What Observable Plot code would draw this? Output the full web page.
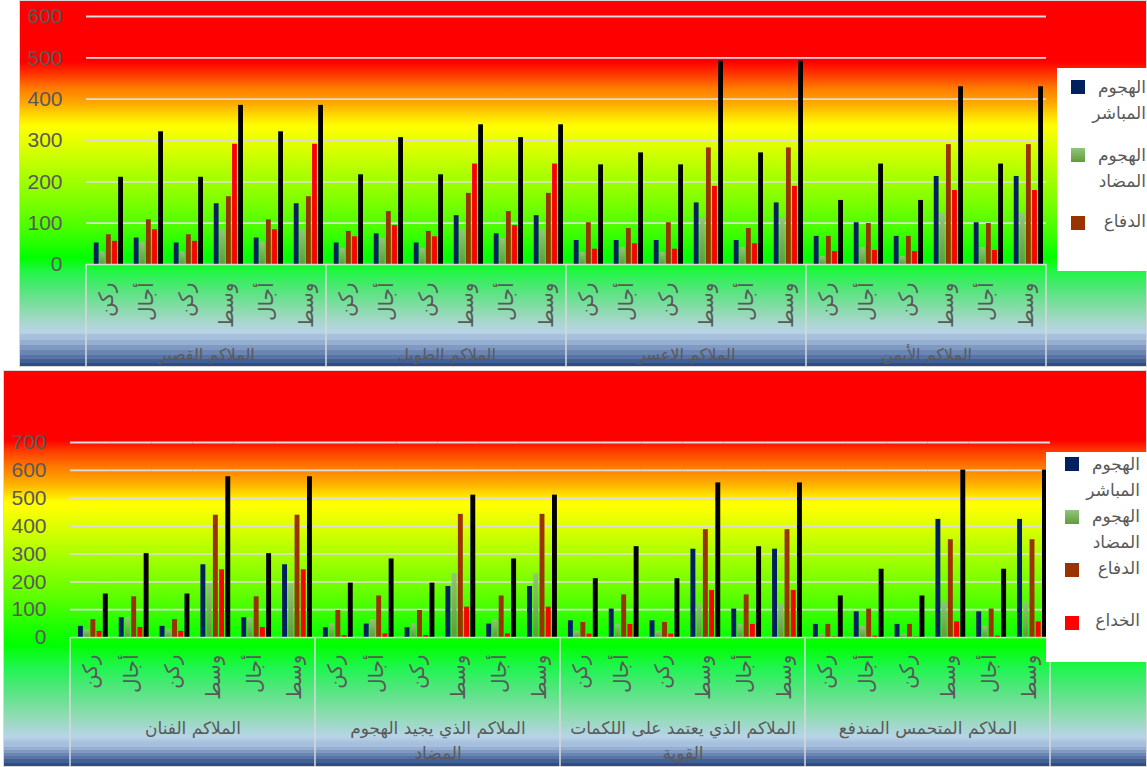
<!DOCTYPE html>
<html>
<head>
<meta charset="utf-8">
<script src="https://cdn.jsdelivr.net/npm/d3@7"></script>
<script src="https://cdn.jsdelivr.net/npm/@observablehq/plot@0.6"></script>
<style>
  html, body { margin: 0; padding: 0; background: #ffffff; }
  body { width: 1147px; height: 767px; position: relative; overflow: hidden;
         font-family: "Liberation Sans", "DejaVu Sans", sans-serif; }
  .panel { position: absolute; outline: 1px solid #d9d9d9; outline-offset: -1px; }
  .panel svg { position: absolute; left: 0; top: 0; overflow: visible; }
  #p1 { left: 19px; top: 0px; width: 1128px; height: 367px;
    background: linear-gradient(to bottom,
      #ff0000 0px, #ff0000 62px, #ff3a00 75px, #ff7a00 88px, #ffa800 103px, #ffe000 117px, #ffff00 126px,
      #e0ff00 145px, #b0ff00 172px, #80ff00 200px, #40ff00 232px, #00ff00 258px, #22f548 272px,
      #55e57c 290px, #86dca8 308px, #a8d6cc 322px, #b8d4e8 333px,
      #a6bfdc 335px, #a6bfdc 340px, #94afd0 340px, #94afd0 345px, #8099c2 345px, #8099c2 350px,
      #6c86b3 350px, #6c86b3 355px, #5873a4 355px, #5873a4 359px, #445f95 359px, #445f95 363px,
      #304c86 363px, #304c86 367px); }
  #p2 { left: 3px; top: 370px; width: 1144px; height: 397px;
    background: linear-gradient(to bottom,
      #ff0000 0px, #ff0000 70px, #ff4000 82px, #ff7a00 97px, #ffb000 114px, #ffff00 132px, #ffff00 136px,
      #d8ff00 160px, #a0ff00 190px, #60ff00 225px, #20ff00 255px, #00ff00 275px, #20f550 298px,
      #55e580 320px, #8ddcb0 345px, #b8d4e8 367px,
      #a6bfdc 373px, #a6bfdc 377px, #94afd0 377px, #94afd0 380px, #8099c2 380px, #8099c2 383px,
      #6c86b3 383px, #6c86b3 386px, #5873a4 386px, #5873a4 389px, #445f95 389px, #445f95 393px,
      #304c86 393px, #304c86 397px); }
  .legend { position: absolute; background: #ffffff; }
  .sw { position: absolute; width: 14px; height: 14px; }
  .lt { position: absolute; direction: rtl; text-align: right; color: #595959;
        font-family: "DejaVu Sans", "Liberation Sans", sans-serif; font-size: 17px; line-height: 26px;
        white-space: pre; }
</style>
</head>
<body>
<svg width="0" height="0" style="position:absolute">
  <defs>
    <linearGradient id="greenBar" x1="0" y1="0" x2="0" y2="1">
      <stop offset="0" stop-color="#93c47d"/>
      <stop offset="1" stop-color="#5f9c3c"/>
    </linearGradient>
  </defs>
</svg>
<div id="p1" class="panel"></div>
<div id="p2" class="panel"></div>
<div id="leg1" class="legend" style="left:1057px;top:68px;width:90px;height:203px"></div>
<div id="leg2" class="legend" style="left:1046px;top:452px;width:101px;height:210px"></div>
<script>
// ---------------- DATA ----------------
const seriesNames = ["الهجوم المباشر", "الهجوم المضاد", "الدفاع", "الخداع", "المجموع"];
const seriesColors = ["#002060", "url(#greenBar)", "#993300", "#ff0000", "#000000"];
const slotLabels = ["ركن", "أجال", "ركن", "وسط", "أجال", "وسط"];

const topGroups = ["الملاكم القصير", "الملاكم الطويل", "الملاكم الاعسر", "الملاكم الأيمن"];
const topTicks = [0, 100, 200, 300, 400, 500, 600];
const topDirect   = [52, 64, 52, 147, 64, 147,  52, 74, 52, 118, 74, 118,  58, 58, 58, 149, 58, 149,  68, 101, 68, 213, 101, 213];
const topCounter  = [31, 54, 31, 83, 54, 83,    39, 63, 39, 83, 63, 83,    29, 41, 29, 113, 41, 113,  19, 41, 19, 124, 41, 124];
const topDefense  = [72, 108, 72, 164, 108, 164, 80, 128, 80, 172, 128, 172, 101, 87, 101, 282, 87, 282, 68, 99, 68, 290, 99, 290];
const topDeceive  = [56, 84, 56, 291, 84, 291,  67, 94, 67, 243, 94, 243,  37, 50, 37, 189, 50, 189,  31, 34, 31, 179, 34, 179];
const topTotal    = [211, 321, 211, 385, 321, 385, 217, 307, 217, 338, 307, 338, 241, 270, 241, 492, 270, 492, 155, 243, 155, 430, 243, 430];

const botGroups = ["الملاكم الفنان", "الملاكم الذي يجيد الهجوم\nالمضاد", "الملاكم الذي يعتمد على اللكمات\nالقوية", "الملاكم المتحمس المندفع"];
const botTicks = [0, 100, 200, 300, 400, 500, 600, 700];
const botDirect   = [40, 71, 40, 261, 71, 261,  35, 48, 35, 183, 48, 183,  60, 102, 60, 317, 102, 317,  47, 92, 47, 424, 92, 424];
const botCounter  = [28, 71, 28, 192, 71, 192,  49, 64, 49, 229, 64, 229,  22, 47, 22, 122, 47, 122,  11, 40, 11, 129, 40, 129];
const botDefense  = [64, 146, 64, 439, 146, 439, 97, 149, 97, 442, 149, 442, 54, 153, 54, 387, 153, 387, 47, 102, 47, 351, 102, 351];
const botDeceive  = [22, 36, 22, 243, 36, 243,  7, 13, 7, 109, 13, 109,  12, 47, 12, 169, 47, 169,  2, 5, 2, 56, 5, 56];
const botTotal    = [156, 301, 156, 577, 301, 577, 195, 282, 195, 511, 282, 511, 211, 326, 211, 555, 326, 555, 149, 245, 149, 601, 245, 601];

// ---------------- DRAW ----------------
function drawPanel(cfg) {
  const nG = cfg.groups.length, nS = slotLabels.length;
  const keys = d3.range(nG * nS).map(i => `${Math.floor(i / nS)}-${i % nS}`);
  const rows = [];
  keys.forEach((k, i) => seriesNames.forEach((s, j) => rows.push({key: k, series: s, value: cfg.values[j][i]})));
  const slotOf = k => slotLabels[+k.split("-")[1]];
  const chart = Plot.plot({
    width: cfg.width, height: cfg.height,
    marginLeft: cfg.ml, marginRight: cfg.mr, marginTop: cfg.mt, marginBottom: cfg.mb,
    style: {background: "transparent", overflow: "visible", fontFamily: "'Liberation Sans','DejaVu Sans',sans-serif"},
    fx: {domain: keys, paddingInner: 0, paddingOuter: 0, round: false},
    x: {domain: seriesNames, paddingInner: 0.21, paddingOuter: 0.885, align: 0.72, round: false, axis: null},
    y: {domain: [0, cfg.ticks[cfg.ticks.length - 1]]},
    color: {domain: seriesNames, range: seriesColors},
    marks: [
      Plot.gridY(cfg.ticks.slice(1), {stroke: "#dcdcdc", strokeOpacity: 1, strokeWidth: 1.8}),
      Plot.barY(rows, {fx: "key", x: "series", y: "value", fill: "series"}),
      Plot.ruleY([0], {stroke: "#d9d9d9", strokeWidth: 1.5}),
      Plot.axisY(cfg.ticks, {tickSize: 0, tickPadding: 24, fontSize: 21, fill: "#595959", label: null}),
      Plot.axisFx({anchor: "bottom", tickSize: 0, tickPadding: cfg.subPad, tickRotate: -90, fontSize: 20,
                   fill: "#595959", label: null, tickFormat: slotOf, fontFamily: "'DejaVu Sans',sans-serif"}),
      Plot.text(cfg.groups, {fx: (d, i) => keys[i * nS + 2], frameAnchor: "bottom-right", text: d => d,
                 textAnchor: "middle", lineAnchor: cfg.lineAnchor, dy: cfg.groupDy, fontSize: cfg.groupFont,
                 lineHeight: 1.5, fill: "#595959", fontFamily: "'DejaVu Sans',sans-serif"})
    ]
  });
  document.getElementById(cfg.id).appendChild(chart);

  // group box lines, positioned through Plot's own scales
  const fx = chart.scale("fx"), ys = chart.scale("y");
  const band = d3.scaleBand().domain(fx.domain).range(fx.range)
    .paddingInner(fx.paddingInner ?? 0).paddingOuter(fx.paddingOuter ?? 0)
    .align(fx.align ?? 0.5).round(!!fx.round);
  const y0 = ys.apply ? ys.apply(0) : d3.scaleLinear(ys.domain, ys.range)(0);
  const xs = d3.range(nG).map(g => band(keys[g * nS])).concat([band(keys[keys.length - 1]) + band.bandwidth()]);
  d3.select(chart).append("g").selectAll("line").data(xs).join("line")
    .attr("x1", d => d).attr("x2", d => d).attr("y1", y0).attr("y2", cfg.height)
    .attr("stroke", "#d9d9d9").attr("stroke-width", 1.5);
}

drawPanel({id: "p1", groups: topGroups, ticks: topTicks,
  values: [topDirect, topCounter, topDefense, topDeceive, topTotal],
  width: 1128, height: 367, ml: 67, mr: 101, mt: 16, mb: 103,
  subPad: 18, groupDy: 88, groupFont: 16, lineAnchor: "middle"});

drawPanel({id: "p2", groups: botGroups, ticks: botTicks,
  values: [botDirect, botCounter, botDefense, botDeceive, botTotal],
  width: 1144, height: 397, ml: 67, mr: 97, mt: 72, mb: 130,
  subPad: 17, groupDy: 78, groupFont: 17, lineAnchor: "top"});

// ---------------- LEGENDS ----------------
const legendGreen = "linear-gradient(#93c47d, #5f9c3c)";
function legend(id, items) {
  const el = document.getElementById(id);
  items.forEach((it, i) => {
    const sw = document.createElement("div");
    sw.className = "sw";
    sw.style.left = it.sx + "px"; sw.style.top = it.sy + "px";
    sw.style.background = seriesColors[i] === "url(#greenBar)" ? legendGreen : seriesColors[i];
    el.appendChild(sw);
    const t = document.createElement("div");
    t.className = "lt";
    t.style.right = it.tr + "px"; t.style.top = it.ty + "px";
    t.textContent = seriesNames[i].split(" ").join("\n");
    el.appendChild(t);
  });
}
legend("leg1", [
  {sx: 14, sy: 12, tr: 1, ty: 6},
  {sx: 14, sy: 80, tr: 1, ty: 74},
  {sx: 14, sy: 148, tr: 1, ty: 140}
]);
legend("leg2", [
  {sx: 19, sy: 5, tr: 7, ty: -1},
  {sx: 19, sy: 58, tr: 7, ty: 51},
  {sx: 19, sy: 111, tr: 7, ty: 103},
  {sx: 19, sy: 164, tr: 7, ty: 155}
]);
</script>
</body>
</html>
